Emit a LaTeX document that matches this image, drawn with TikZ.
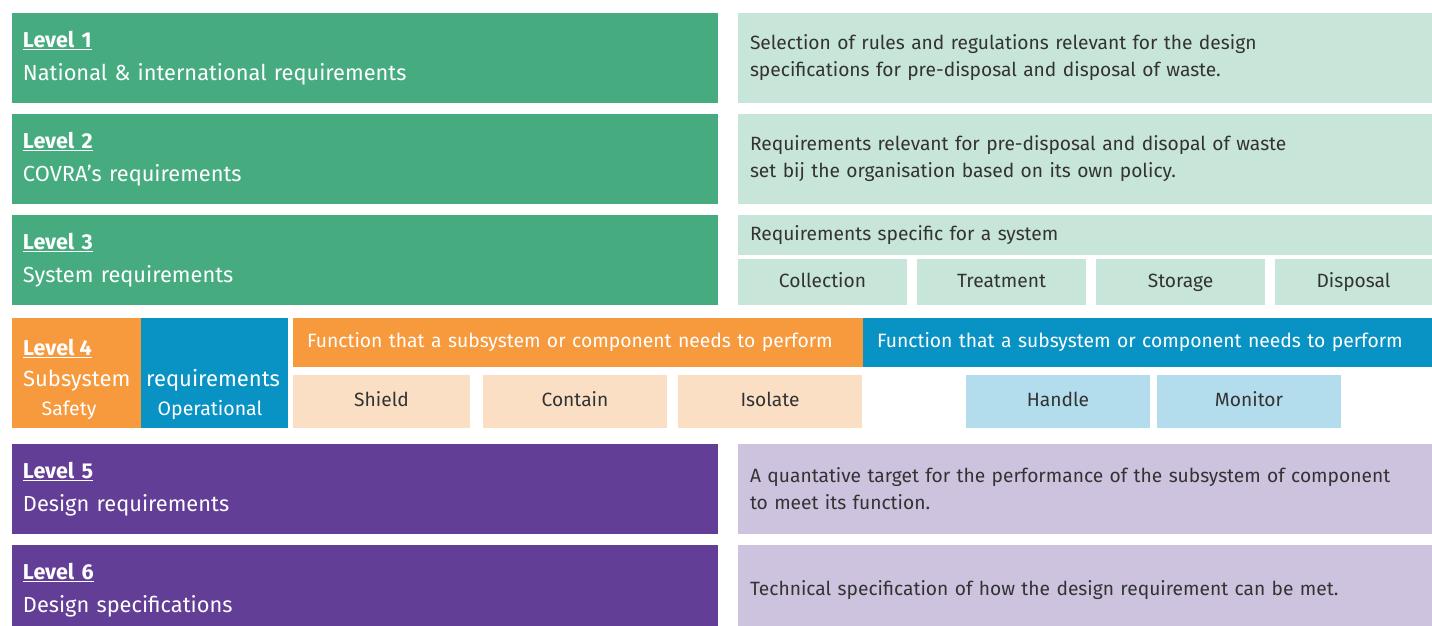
\documentclass[tikz,border=0pt]{standalone}
\usepackage{fontspec}
\setmainfont{Fira Sans}
\definecolor{dgreen}{HTML}{46AC80}
\definecolor{lgreen}{HTML}{C8E5D9}
\definecolor{dorange}{HTML}{F7993D}
\definecolor{lorange}{HTML}{FADFC5}
\definecolor{dblue}{HTML}{0893C4}
\definecolor{lblue}{HTML}{B3DDED}
\definecolor{dpurple}{HTML}{633E96}
\definecolor{lpurple}{HTML}{CDC3DF}
\definecolor{txt}{HTML}{333333}
\newcommand{\lvl}[1]{{\fontsize{21.5}{24}\selectfont\bfseries\underline{Level #1}}}
\begin{document}
\begin{tikzpicture}[x=1pt,y=-1pt,
  box/.style={draw=none,anchor=north west,inner sep=0pt,outer sep=0pt},
  lbox/.style={box,align=left,text=white,font=\fontsize{21.8}{33}\selectfont,inner xsep=11pt},
  rbox/.style={box,align=left,text=txt,font=\fontsize{19.2}{27}\selectfont,inner xsep=12pt},
  cbox/.style={box,align=center,text=txt,font=\fontsize{19.2}{22}\selectfont,text height=14pt,text depth=4pt},
  hbox/.style={box,align=left,text=white,font=\fontsize{19.3}{22}\selectfont,inner xsep=14pt}]
\useasboundingbox (0,0) rectangle (1432,626);
% Level 1
\node[lbox,fill=dgreen,minimum width=706pt,minimum height=90pt,text width=684pt] (l1) at (12,13) {\lvl{1}\\National \& international requirements};
\node[rbox,fill=lgreen,minimum width=694pt,minimum height=90pt,text width=670pt] (r1) at (738,13) {Selection of rules and regulations relevant for the design\\specifications for pre-disposal and disposal of waste.};
% Level 2
\node[lbox,fill=dgreen,minimum width=706pt,minimum height=90pt,text width=684pt] (l2) at (12,114) {\lvl{2}\\COVRA’s requirements};
\node[rbox,fill=lgreen,minimum width=694pt,minimum height=90pt,text width=670pt] (r2) at (738,114) {Requirements relevant for pre-disposal and disopal of waste\\set bij the organisation based on its own policy.};
% Level 3
\node[lbox,fill=dgreen,minimum width=706pt,minimum height=90pt,text width=684pt] (l3) at (12,215) {\lvl{3}\\System requirements};
\node[rbox,fill=lgreen,minimum width=694pt,minimum height=40pt,text width=670pt] (r3) at (738,215) {Requirements specific for a system};
\node[cbox,fill=lgreen,minimum width=169pt,minimum height=46pt] (col) at (738,259) {Collection};
\node[cbox,fill=lgreen,minimum width=169pt,minimum height=46pt] (tre) at (917,259) {Treatment};
\node[cbox,fill=lgreen,minimum width=169pt,minimum height=46pt] (sto) at (1096,259) {Storage};
\node[cbox,fill=lgreen,minimum width=157pt,minimum height=46pt] (dis) at (1275,259) {Disposal};
% Level 4
\node[box,fill=dorange,minimum width=129pt,minimum height=110pt] (l4a) at (12,318) {};
\node[box,fill=dblue,minimum width=147pt,minimum height=110pt] (l4b) at (141,318) {};
\node[anchor=base west,inner sep=0pt,text=white] (l4t) at (23,355) {\lvl{4}};
\node[anchor=base west,inner sep=0pt,text=white,font=\fontsize{22}{24}\selectfont] (l4s) at (23,386) {Subsystem};
\node[anchor=base,inner sep=0pt,text=white,font=\fontsize{19.5}{22}\selectfont] (l4f) at (69,415) {Safety};
\node[anchor=base west,inner sep=0pt,text=white,font=\fontsize{22}{24}\selectfont] (l4r) at (146,386) {requirements};
\node[anchor=base,inner sep=0pt,text=white,font=\fontsize{19.5}{22}\selectfont] (l4o) at (210,415) {Operational};
\node[hbox,fill=dorange,minimum width=570pt,minimum height=49pt,text width=542pt] (fo) at (293,318) {Function that a subsystem or component needs to perform};
\node[hbox,fill=dblue,minimum width=569pt,minimum height=49pt,text width=541pt] (fb) at (863,318) {Function that a subsystem or component needs to perform};
\node[cbox,fill=lorange,minimum width=177pt,minimum height=53pt] (shi) at (293,375) {Shield};
\node[cbox,fill=lorange,minimum width=184pt,minimum height=53pt] (con) at (483,375) {Contain};
\node[cbox,fill=lorange,minimum width=184pt,minimum height=53pt] (iso) at (678,375) {Isolate};
\node[cbox,fill=lblue,minimum width=184pt,minimum height=53pt] (han) at (966,375) {Handle};
\node[cbox,fill=lblue,minimum width=184pt,minimum height=53pt] (mon) at (1157,375) {Monitor};
% Level 5
\node[lbox,fill=dpurple,minimum width=706pt,minimum height=90pt,text width=684pt] (l5) at (12,444) {\lvl{5}\\Design requirements};
\node[rbox,fill=lpurple,minimum width=694pt,minimum height=90pt,text width=670pt] (r5) at (738,444) {A quantative target for the performance of the subsystem of component\\to meet its function.};
% Level 6
\node[lbox,fill=dpurple,minimum width=706pt,minimum height=90pt,text width=684pt] (l6) at (12,545) {\lvl{6}\\Design specifications};
\node[rbox,fill=lpurple,minimum width=694pt,minimum height=90pt,text width=670pt] (r6) at (738,545) {Technical specification of how the design requirement can be met.};
\end{tikzpicture}
\end{document}
